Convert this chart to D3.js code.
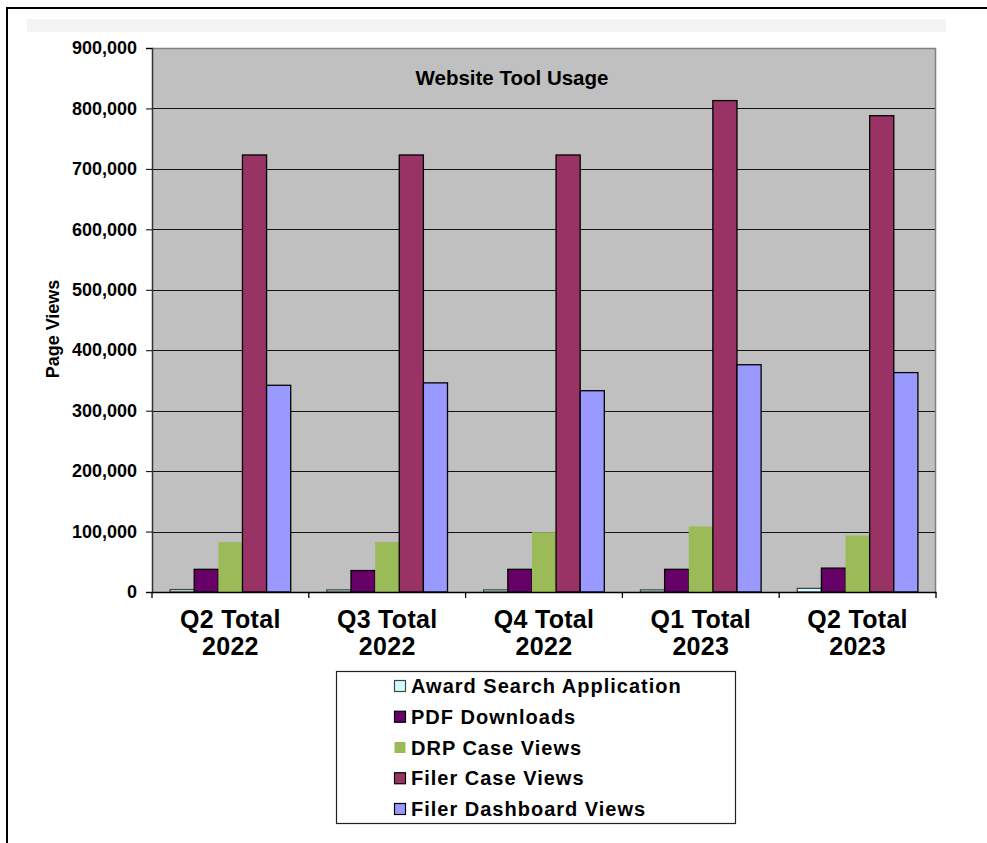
<!DOCTYPE html>
<html><head><meta charset="utf-8">
<script src="https://cdn.jsdelivr.net/npm/d3@7"></script>
<style>html,body{margin:0;padding:0;background:#fff;} svg{display:block;font-family:"Liberation Sans",Arial,sans-serif;}</style>
</head><body>
<script>
const categories = ["Q2 Total 2022","Q3 Total 2022","Q4 Total 2022","Q1 Total 2023","Q2 Total 2023"];
const seriesNames = ["Award Search Application","PDF Downloads","DRP Case Views","Filer Case Views","Filer Dashboard Views"];
const awardSearch = [4000, 3500, 3500, 3500, 6000];
const pdfDownloads = [37500, 35500, 37500, 37500, 39500];
const drpCaseViews = [82500, 82500, 99000, 108500, 93500];
const filerCaseViews = [723000, 723000, 723000, 813000, 788000];
const filerDashboard = [342000, 346000, 333000, 376000, 363000];
const yTicks = [0,100000,200000,300000,400000,500000,600000,700000,800000,900000];
const colors = ["#ccffff","#660066","#9bbb59","#993366","#9999ff"];
const strokes = ["#444","#000",null,"#000","#000"];

const series = [awardSearch, pdfDownloads, drpCaseViews, filerCaseViews, filerDashboard];
const W = 987, H = 843;
const svg = d3.select("body").append("svg").attr("width", W).attr("height", H);

// outer frame
svg.append("line").attr("x1",6).attr("x2",W).attr("y1",8).attr("y2",8).attr("stroke","#000").attr("stroke-width",2);
svg.append("line").attr("x1",7).attr("x2",7).attr("y1",8).attr("y2",H).attr("stroke","#000").attr("stroke-width",2);
svg.append("rect").attr("x",27).attr("y",19).attr("width",919).attr("height",13).attr("fill","#f4f4f4");

const L = 152, R = 936, T = 48, B = 592;
const x = d3.scaleBand().domain(categories).range([L, R]).padding(0);
const y = d3.scaleLinear().domain([0, 900000]).range([B, T]);
const barW = x.bandwidth() / 6.5;

svg.append("rect").attr("x",L).attr("y",T).attr("width",R-L).attr("height",B-T).attr("fill","#c0c0c0");
// grid
svg.append("g").selectAll("line").data(yTicks.filter(d=>d>0 && d<900000)).join("line")
  .attr("x1",L).attr("x2",R).attr("y1",d=>Math.round(y(d))+0.5).attr("y2",d=>Math.round(y(d))+0.5)
  .attr("stroke","#111").attr("stroke-width",1.2);
// plot border top/right
svg.append("path").attr("d",`M${L},${T+0.5}H${R-0.5}V${B}`).attr("fill","none").attr("stroke","#808080").attr("stroke-width",1.5);

// bars
series.forEach((vals, si) => {
  svg.append("g").selectAll("rect").data(vals).join("rect")
    .attr("x",(d,i)=>x(categories[i]) + barW*0.75 + si*barW)
    .attr("y",d=>y(d))
    .attr("width",barW)
    .attr("height",d=>B - y(d))
    .attr("fill",colors[si])
    .attr("stroke",strokes[si] || "none")
    .attr("stroke-width",1.3);
});

// y axis
const yAxis = d3.axisLeft(y).tickValues(yTicks).tickFormat(d3.format(",")).tickSize(6).tickPadding(9);
const ya = svg.append("g").attr("transform",`translate(${L},0)`).call(yAxis);
ya.select(".domain").attr("stroke","#333").attr("stroke-width",1.5);
ya.selectAll(".tick line").attr("stroke","#000");
ya.selectAll(".tick text").attr("font-size",18).attr("font-weight","bold").attr("fill","#000")
  .attr("font-family","'Liberation Sans',Arial,sans-serif");

// x axis
const xAxis = d3.axisBottom(x).tickSize(0).tickFormat("");
const xa = svg.append("g").attr("transform",`translate(0,${B})`).call(xAxis);
xa.select(".domain").attr("stroke","#000").attr("stroke-width",1.3);
svg.append("g").selectAll("line").data(categories.concat([null])).join("line")
  .attr("x1",(d,i)=> i<categories.length ? x(d) : R).attr("x2",(d,i)=> i<categories.length ? x(d) : R)
  .attr("y1",B).attr("y2",B+6).attr("stroke","#000").attr("stroke-width",1.3);
const xl = svg.append("g").selectAll("text").data(categories).join("text")
  .attr("x",d=>x(d)+x.bandwidth()/2).attr("text-anchor","middle")
  .attr("font-size",25).attr("font-weight","bold").attr("fill","#000").attr("letter-spacing","0.3px");
xl.each(function(d){
  const parts = d.split(" ");
  const t = d3.select(this);
  t.append("tspan").attr("x",x(d)+x.bandwidth()/2).attr("y",628).text(parts[0]+" "+parts[1]);
  t.append("tspan").attr("x",x(d)+x.bandwidth()/2).attr("y",655).text(parts[2]);
});

// y title
svg.append("text").attr("transform","translate(59,329) rotate(-90)").attr("text-anchor","middle")
  .attr("font-size",18).attr("font-weight","bold").text("Page Views");

// chart title
svg.append("text").attr("x",512).attr("y",85).attr("text-anchor","middle")
  .attr("font-size",20.5).attr("font-weight","bold").text("Website Tool Usage");

// legend
const lg = svg.append("g");
lg.append("rect").attr("x",336.5).attr("y",671.5).attr("width",399).attr("height",152)
  .attr("fill","#fff").attr("stroke","#222").attr("stroke-width",1.2);
const rowY = d3.scaleLinear().domain([0,4]).range([686,809]);
seriesNames.forEach((name, i) => {
  lg.append("rect").attr("x",394.5).attr("y",rowY(i)-5.5).attr("width",11).attr("height",11)
    .attr("fill",colors[i]).attr("stroke",strokes[i] || "none").attr("stroke-width",1.2);
  lg.append("text").attr("x",411).attr("y",rowY(i)+7).attr("font-size",20).attr("font-weight","bold")
    .attr("letter-spacing","1px").text(name);
});
</script>
</body></html>
